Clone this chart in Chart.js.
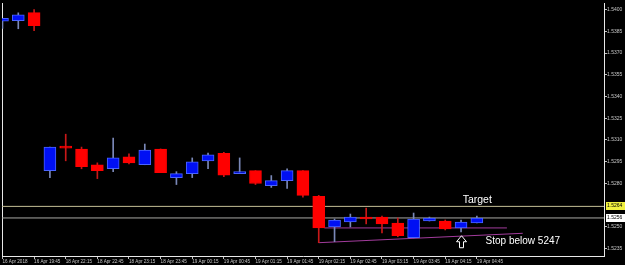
<!DOCTYPE html>
<html>
<head>
<meta charset="utf-8">
<script src="https://cdn.jsdelivr.net/npm/chart.js@4.4.0/dist/chart.umd.min.js"></script>
<style>
html, body { margin: 0; padding: 0; background: #000; overflow: hidden; }
</style>
</head>
<body>
<canvas id="chart" width="625" height="265"></canvas>
<script>
// 15 minute candles
const timeIdx = [0, 2, 4, 6, 8, 10, 12, 14, 16, 18, 20, 22, 24, 26, 28, 30];
const timeLabels = ['16 Apr 2018', '16 Apr 19:45', '18 Apr 22:15', '18 Apr 22:45', '18 Apr 23:15', '18 Apr 23:45',
    '19 Apr 00:15', '19 Apr 00:45', '19 Apr 01:15', '19 Apr 01:45', '19 Apr 02:15', '19 Apr 02:45',
    '19 Apr 03:15', '19 Apr 03:45', '19 Apr 04:15', '19 Apr 04:45'];

const opens  = [1.5392, 1.53923, 1.5398, 1.52887, 1.53057, 1.53037, 1.52928, 1.529, 1.52982, 1.52928, 1.53037,
    1.52839, 1.52866, 1.52955, 1.53006, 1.52866, 1.52887, 1.52784, 1.52818, 1.52887, 1.52709,
    1.52498, 1.52532, 1.52566, 1.52566, 1.52525, 1.52423, 1.52539, 1.52539, 1.52491, 1.52525];
const highs  = [1.5394, 1.53978, 1.5400, 1.5305, 1.53139, 1.5305, 1.52941, 1.53112, 1.53003, 1.53071, 1.53037,
    1.5288, 1.52975, 1.53009, 1.53013, 1.52975, 1.52887, 1.52853, 1.529, 1.52887, 1.52716,
    1.52553, 1.52587, 1.52628, 1.52573, 1.5256, 1.52594, 1.52566, 1.52546, 1.52546, 1.52573];
const lows   = [1.5387, 1.53868, 1.53855, 1.52839, 1.52955, 1.529, 1.52832, 1.5288, 1.52934, 1.52928, 1.52873,
    1.52791, 1.52839, 1.529, 1.52846, 1.52866, 1.52791, 1.52771, 1.52764, 1.52703, 1.52389,
    1.52396, 1.52498, 1.52519, 1.52457, 1.5243, 1.52423, 1.52539, 1.52477, 1.52464, 1.52525];
const closes = [1.5394, 1.53964, 1.5389, 1.5305, 1.53043, 1.52914, 1.52887, 1.52975, 1.52941, 1.5303, 1.52873,
    1.52866, 1.52948, 1.52996, 1.52856, 1.5288, 1.52798, 1.52818, 1.52887, 1.52716, 1.52491,
    1.52546, 1.52566, 1.52553, 1.52519, 1.52437, 1.52553, 1.5256, 1.52484, 1.52532, 1.5256];

const priceTicks = [1.5235, 1.5250, 1.5280, 1.5295, 1.5310, 1.5325, 1.5340, 1.5355, 1.5370, 1.5385, 1.5400];
const targetLevel = 1.5264;
const lastLevel = 1.5256;
// drawn trend lines [index, price]
const flatLine = [[20.36, 1.52491], [31.9, 1.52491]];
const slopeLine = [[20, 1.52389], [32.9, 1.52454]];

const isUp = opens.map((o, i) => closes[i] >= o);
const bodyFill = isUp.map(u => u ? '#0010f4' : '#ff0000');
const bodyEdge = isUp.map(u => u ? '#4a64ff' : '#ff0000');
const wickCol = isUp.map(u => u ? '#7a88b8' : '#c81818');

const flat = (level, col) => ({
    type: 'line',
    data: [{x: -2, y: level}, {x: 40, y: level}],
    borderColor: col, borderWidth: 1, pointRadius: 0, order: 3
});
const seg = (pts, col) => ({
    type: 'line',
    data: pts.map(p => ({x: p[0], y: p[1]})),
    borderColor: col, borderWidth: 1, pointRadius: 0, order: 3
});

const extras = {
    id: 'extras',
    beforeDatasetsDraw(chart) {
        const {ctx, chartArea} = chart;
        ctx.save();
        ctx.strokeStyle = '#e8e8e8';
        ctx.lineWidth = 1;
        ctx.beginPath();
        ctx.moveTo(chartArea.left + 0.5, chartArea.top);
        ctx.lineTo(chartArea.left + 0.5, chartArea.bottom);
        ctx.stroke();
        ctx.restore();
    },
    afterDraw(chart) {
        const {ctx, scales: {x, y}, chartArea} = chart;
        ctx.save();
        ctx.fillStyle = '#ffffff';
        ctx.font = '10.5px "Liberation Sans", Arial, sans-serif';
        ctx.textBaseline = 'middle';
        ctx.textAlign = 'left';
        ctx.fillText('Target', x.getPixelForValue(29.1), y.getPixelForValue(targetLevel) - 6);
        ctx.font = '10px "Liberation Sans", Arial, sans-serif';
        ctx.fillText('Stop below 5247', x.getPixelForValue(30.55), y.getPixelForValue(1.52402));

        // hollow up arrow
        const ax = Math.round(x.getPixelForValue(29)) + 0.5;
        const ay = y.getPixelForValue(1.52437);
        ctx.strokeStyle = '#ffffff';
        ctx.beginPath();
        ctx.moveTo(ax, ay);
        ctx.lineTo(ax + 5, ay + 6);
        ctx.lineTo(ax + 2, ay + 6);
        ctx.lineTo(ax + 2, ay + 12);
        ctx.lineTo(ax - 2, ay + 12);
        ctx.lineTo(ax - 2, ay + 6);
        ctx.lineTo(ax - 5, ay + 6);
        ctx.closePath();
        ctx.stroke();

        // price tags on the axis
        ctx.font = '5px "Liberation Sans", Arial, sans-serif';
        [[targetLevel, '#f0f040'], [lastLevel, '#ffffff']].forEach(([lv, bg]) => {
            const py = Math.round(y.getPixelForValue(lv));
            ctx.fillStyle = bg;
            ctx.fillRect(chartArea.right + 2, py - 4, 19, 8);
            ctx.fillStyle = '#000';
            ctx.fillText(lv.toFixed(4), chartArea.right + 3, py);
        });
        ctx.restore();
    }
};

new Chart(document.getElementById('chart'), {
    type: 'bar',
    data: {
        datasets: [
            {
                data: opens.map((o, i) => ({x: i, y: [o, closes[i]]})),
                backgroundColor: bodyFill,
                borderColor: bodyEdge,
                borderWidth: 1,
                borderSkipped: false,
                barThickness: 12,
                grouped: false,
                order: 1
            },
            {
                data: lows.map((l, i) => ({x: i, y: [l, highs[i]]})),
                backgroundColor: wickCol,
                borderWidth: 0,
                barThickness: 1,
                grouped: false,
                order: 2
            },
            flat(targetLevel, '#c4bf96'),
            flat(lastLevel, '#a8a8a4'),
            seg(flatLine, '#a23c9c'),
            seg(slopeLine, '#a23c9c')
        ]
    },
    options: {
        responsive: false,
        animation: false,
        layout: { padding: { left: 2, top: 0, right: 0, bottom: 0 } },
        plugins: { legend: { display: false }, tooltip: { enabled: false } },
        scales: {
            x: {
                type: 'linear',
                offset: false,
                min: -0.03,
                max: 38.04,
                afterBuildTicks: scale => { scale.ticks = timeIdx.map(v => ({value: v})); },
                afterFit: scale => { scale.height = 9; },
                grid: { drawOnChartArea: false, drawTicks: true, tickLength: 3, color: '#c0c0c0', offset: false },
                border: { display: true, color: '#e8e8e8' },
                ticks: {
                    autoSkip: false,
                    maxRotation: 0,
                    align: 'start',
                    padding: 0,
                    color: '#c8c8c8',
                    font: { size: 4.6, family: '"Liberation Sans", Arial, sans-serif' },
                    callback: (v, i) => timeLabels[i]
                }
            },
            y: {
                position: 'right',
                min: 1.52297,
                max: 1.54046,
                afterBuildTicks: scale => { scale.ticks = priceTicks.map(v => ({value: v})); },
                afterFit: scale => { scale.width = 21; },
                grid: { drawOnChartArea: false, drawTicks: true, tickLength: 3, color: '#c0c0c0' },
                border: { display: true, color: '#e8e8e8' },
                ticks: {
                    padding: 0,
                    crossAlign: 'near',
                    color: '#c8c8c8',
                    font: { size: 5, family: '"Liberation Sans", Arial, sans-serif' },
                    callback: v => v.toFixed(4)
                }
            }
        }
    },
    plugins: [extras]
});
</script>
</body>
</html>
